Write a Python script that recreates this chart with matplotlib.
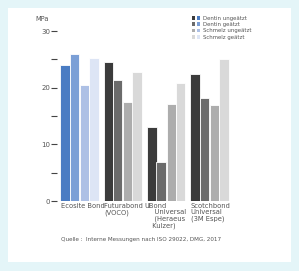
import matplotlib
matplotlib.use("Agg")
import matplotlib.pyplot as plt
from matplotlib.patches import Patch, Rectangle
from matplotlib.legend_handler import HandlerTuple
import numpy as np

categories = ["Ecosite Bond", "Futurabond U\n(VOCO)", "iBond\n   Universal\n   (Heraeus\n  Kulzer)", "Scotchbond\nUniversal\n(3M Espe)"]
series_names = ["Dentin ungeätzt", "Dentin geätzt", "Schmelz ungeätzt", "Schmelz geätzt"]
dentin_ungeaetzt = [24.0, 24.5, 13.0, 22.4]
dentin_geaetzt = [25.9, 21.3, 6.8, 18.1]
schmelz_ungeaetzt = [20.5, 17.5, 17.2, 16.9]
schmelz_geaetzt = [25.2, 22.7, 20.8, 25.1]
series = [dentin_ungeaetzt, dentin_geaetzt, schmelz_ungeaetzt, schmelz_geaetzt]
yticks_major = [0, 10, 20, 30]
yticks_minor = [5, 15, 25]
source = "Quelle :  Interne Messungen nach ISO 29022, DMG, 2017"

blues = ["#4a7cc3", "#7b9fd6", "#adc0e5", "#dde5f5"]
grays = ["#3b3b3b", "#6b6b6b", "#adadad", "#d9d9d9"]
offsets = [-0.34, -0.13, 0.11, 0.32]
width = 0.22
txt = "#555555"

fig = plt.figure(figsize=(2.99, 2.71), dpi=100)
fig.patch.set_facecolor("#e4f5f8")
fig.add_artist(Rectangle((8/299, 1-262/271), (291-8)/299, (262-8)/271,
                         transform=fig.transFigure, facecolor="white", edgecolor="none", zorder=0))

ax = fig.add_axes([57/299, 1-201/271, 188/299, 170/271])
ax.set_facecolor("none")
x = np.arange(len(categories))
for s, (vals, off) in enumerate(zip(series, offsets)):
    for i, v in enumerate(vals):
        c = blues[s] if i == 0 else grays[s]
        ax.bar(x[i] + off, v, width=width, color=c, edgecolor="white", linewidth=0.6)

ax.set_xlim(-0.53, 3.81)
ax.set_ylim(0, 30)
for sp in ax.spines.values():
    sp.set_visible(False)
ax.set_xticks([])
ax.set_yticks(yticks_major)
ax.set_yticks(yticks_minor, minor=True)
ax.tick_params(axis="y", which="both", direction="out", length=4, width=0.8,
               color="#444444", labelsize=5, labelcolor=txt, pad=1)
ax.axhline(0, color="#555555", lw=0.6, xmin=0.0, xmax=(229-57)/188)
ax.text(-0.045, 1.07, "MPa", transform=ax.transAxes, ha="right", va="center", fontsize=4.8, color=txt)

for i, lab in enumerate(categories):
    ax.text(x[i] - 0.44, -0.012, lab, transform=ax.get_xaxis_transform(), ha="left", va="top",
            fontsize=4.9, color=txt, linespacing=1.05)

fig.text(61/299, 1-239/271, source, ha="left", va="center", fontsize=4.1, color=txt)

handles = [(Patch(facecolor=grays[s]), Patch(facecolor=blues[s])) for s in range(4)]
leg = fig.legend(handles, series_names, handler_map={tuple: HandlerTuple(ndivide=None, pad=0.3)},
                 loc="upper left", bbox_to_anchor=(189/299, 1-13/271), frameon=False,
                 fontsize=3.9, handlelength=1.5, handleheight=0.7, handletextpad=0.6,
                 labelspacing=0.25, borderpad=0)
for t in leg.get_texts():
    t.set_color(txt)

fig.savefig("out.png", dpi=100)
